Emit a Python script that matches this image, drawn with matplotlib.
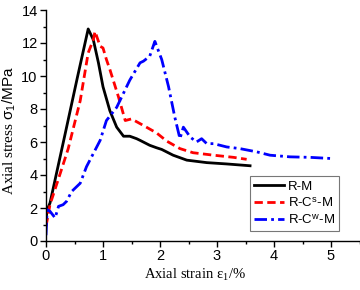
import matplotlib
matplotlib.use("Agg")
import matplotlib.pyplot as plt
from matplotlib.ticker import MultipleLocator

# R-M
rm_x = [0.0, 0.02, 0.07, 0.33, 0.55, 0.74, 0.83, 0.92, 1.0, 1.12, 1.24, 1.36, 1.47,
        1.59, 1.65, 1.82, 1.94, 2.03, 2.23, 2.47, 2.82, 3.17, 3.58]
rm_y = [1.3, 1.9, 2.3, 6.4, 9.9, 12.85, 12.2, 10.8, 9.35, 7.9, 6.9, 6.35, 6.35,
        6.2, 6.1, 5.8, 5.65, 5.55, 5.2, 4.9, 4.75, 4.67, 4.56]

# R-Cs-M
rcs_x = [0.0, 0.01, 0.07, 0.25, 0.39, 0.6, 0.74, 0.83, 0.86, 0.95, 1.0, 1.06, 1.12,
         1.27, 1.39, 1.5, 1.71, 1.94, 2.12, 2.35, 2.58, 2.94, 3.29, 3.52]
rcs_y = [0.9, 1.07, 2.2, 4.1, 5.6, 8.5, 11.4, 12.2, 12.7, 11.8, 11.7, 11.0, 10.4,
         8.75, 7.3, 7.4, 7.0, 6.55, 6.05, 5.6, 5.35, 5.2, 5.07, 4.95]

# R-Cw-M
rcw_x = [0.0, 0.02, 0.07, 0.16, 0.22, 0.3, 0.36, 0.45, 0.6, 0.71, 0.77, 0.89, 0.95,
         1.06, 1.24, 1.47, 1.65, 1.71, 1.82, 1.91, 2.03, 2.15, 2.26, 2.35, 2.41,
         2.53, 2.64, 2.73, 2.82, 2.94, 3.17, 3.4, 3.7, 3.93, 4.28, 4.63, 5.0]
rcw_y = [0.35, 1.9, 1.8, 1.4, 2.1, 2.2, 2.4, 3.0, 3.5, 4.5, 4.9, 5.7, 6.1,
         7.3, 8.1, 9.75, 10.8, 10.9, 11.2, 12.1, 11.0, 9.35, 7.5, 6.2, 6.9,
         6.3, 6.0, 6.2, 5.9, 5.9, 5.7, 5.6, 5.4, 5.2, 5.1, 5.07, 5.0]

labels = ["R-M", r"R-C$^{\mathsf{s}}$-M", r"R-C$^{\mathsf{w}}$-M"]
xticks = [0, 1, 2, 3, 4, 5]
yticks = [0, 2, 4, 6, 8, 10, 12, 14]

plt.rcParams['font.family'] = ['Liberation Sans', 'DejaVu Sans']
plt.rcParams['mathtext.fontset'] = 'custom'
plt.rcParams['mathtext.rm'] = 'Liberation Serif'
plt.rcParams['mathtext.it'] = 'Liberation Serif:italic'
plt.rcParams['mathtext.sf'] = 'Liberation Sans'

fig = plt.figure(figsize=(3.6, 2.9), dpi=100)
W, H = 360, 290
ax = fig.add_axes([46 / W, (H - 241) / H, (359.5 - 46) / W, (241 - 10) / H])

ax.plot(rm_x, rm_y, color='black', lw=2.0, solid_joinstyle='round', label=labels[0])
ax.plot(rcs_x, rcs_y, color='#ff0000', lw=2.0, linestyle=(0, (3, 1.6)), label=labels[1])
ax.plot(rcw_x, rcw_y, color='#0000ff', lw=2.0, linestyle=(0, (4.5, 1.5, 1, 1.5)), label=labels[2])

ax.set_xlim(0, 5.5)
ax.set_ylim(0, 14)
ax.set_xticks(xticks)
ax.set_yticks(yticks)
ax.xaxis.set_minor_locator(MultipleLocator(0.5))
ax.yaxis.set_minor_locator(MultipleLocator(1))
ax.tick_params(which='major', direction='out', length=4, width=1, labelsize=10.5, pad=2)
ax.tick_params(which='minor', direction='out', length=2.5, width=1)
ax.spines['top'].set_visible(False)
ax.spines['right'].set_visible(False)
for s in ('left', 'bottom'):
    ax.spines[s].set_linewidth(1.0)

ax.set_xlabel(r"Axial strain $\mathrm{\varepsilon}_1$/%", family=['Liberation Serif'], fontsize=10.5)
ax.set_ylabel(r"Axial stress $\mathsf{\sigma_1/MPa}$", family=['Liberation Serif'], fontsize=11)
ax.xaxis.set_label_coords(0.475, -0.11)
ax.yaxis.set_label_coords(-0.088, 0.48)

leg = ax.legend(loc='lower right', bbox_to_anchor=(0.935, 0.043), borderaxespad=0,
                fontsize=9.5, handlelength=2.3, handletextpad=0.3, labelspacing=0.3,
                frameon=True, fancybox=False, borderpad=0.3)
leg.get_frame().set_edgecolor('#555555')
leg.get_frame().set_linewidth(0.8)

fig.savefig("out.png", dpi=100)
